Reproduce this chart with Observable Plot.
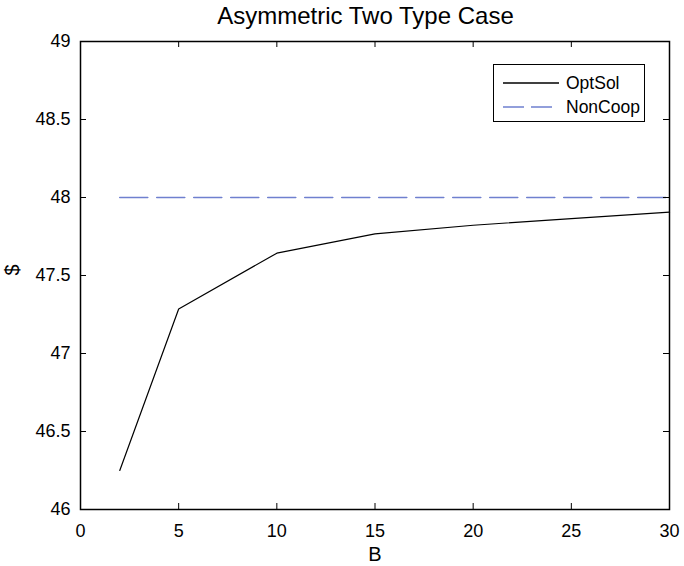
<!DOCTYPE html>
<html><head><meta charset="utf-8">
<script src="https://cdn.jsdelivr.net/npm/d3@7"></script>
<script src="https://cdn.jsdelivr.net/npm/@observablehq/plot@0.6"></script>
<style>
body{margin:0;background:#fff;font-family:"Liberation Sans",Arial,Helvetica,sans-serif;}
#wrap{position:relative;width:684px;height:566px;}
#title{position:absolute;left:0;width:731px;top:2px;text-align:center;font-size:24px;color:#000;}
#legend{position:absolute;left:493px;top:64px;width:152px;height:58px;border:1px solid #000;box-sizing:border-box;background:#fff;font-size:17.5px;color:#000;}
#legend .row{position:absolute;left:9px;height:20px;display:flex;align-items:center;}
#legend svg{display:block;margin-right:7px;}
</style></head>
<body>
<div id="wrap"></div>
<script>
// data
const B = [2, 5, 10, 15, 20, 25, 30];
const optSol = [46.25, 47.285, 47.643, 47.767, 47.822, 47.865, 47.906];
const nonCoop = [48, 48, 48, 48, 48, 48, 48];
const xTicks = [0, 5, 10, 15, 20, 25, 30];
const yTicks = [46, 46.5, 47, 47.5, 48, 48.5, 49];
const seriesNames = ["OptSol", "NonCoop"];
const titleText = "Asymmetric Two Type Case";
const xLabel = "B";
const yLabel = "$";

const colors = {OptSol: "#000000", NonCoop: "#6f80cf"};
const rows = B.map((b, i) => ({B: b, optSol: optSol[i], nonCoop: nonCoop[i]}));

const W = 684, H = 566, mL = 80, mR = 15, mT = 41, mB = 57;
const fw = W - mL - mR, fh = H - mT - mB, tk = 6;
const font = '"Liberation Sans", Arial, Helvetica, sans-serif';

const chart = Plot.plot({
  width: W, height: H,
  marginLeft: mL, marginRight: mR, marginTop: mT, marginBottom: mB,
  style: {fontFamily: font, fontSize: "18px", color: "#000", background: "#fff", overflow: "visible"},
  x: {domain: [0, 30]},
  y: {domain: [46, 49]},
  marks: [
    Plot.line(rows, {x: "B", y: "nonCoop", stroke: colors.NonCoop, strokeWidth: 1.6, strokeDasharray: "28,9"}),
    Plot.line(rows, {x: "B", y: "optSol", stroke: colors.OptSol, strokeWidth: 1.2}),
    Plot.tickX(xTicks, {x: d => d, insetTop: fh - tk, stroke: "#000"}),
    Plot.tickX(xTicks, {x: d => d, insetBottom: fh - tk, stroke: "#000"}),
    Plot.tickY(yTicks, {y: d => d, insetRight: fw - tk, stroke: "#000"}),
    Plot.tickY(yTicks, {y: d => d, insetLeft: fw - tk, stroke: "#000"}),
    Plot.frame({stroke: "#000", strokeWidth: 1.5}),
    Plot.axisX(xTicks, {tickSize: 0, tickPadding: 15, fontSize: 18, label: null, tickFormat: d => String(d)}),
    Plot.axisY(yTicks, {tickSize: 0, tickPadding: 10, fontSize: 18, label: null, tickFormat: d => String(d)}),
    Plot.text([xLabel], {frameAnchor: "bottom", dy: 45, fontSize: 20, text: d => d, lineAnchor: "middle"}),
    Plot.text([yLabel], {frameAnchor: "left", dx: -68, fontSize: 20, rotate: -90, text: d => d, lineAnchor: "middle"})
  ]
});

const wrap = document.getElementById("wrap");
wrap.appendChild(chart);

const t = document.createElement("div");
t.id = "title"; t.textContent = titleText;
wrap.appendChild(t);

const lg = document.createElement("div");
lg.id = "legend";
seriesNames.forEach((name, i) => {
  const r = document.createElement("div");
  r.className = "row";
  r.style.top = (8 + i * 24) + "px";
  const dash = name === "NonCoop" ? ' stroke-dasharray="21,7"' : "";
  r.innerHTML = `<svg width="56" height="4"><line x1="0" x2="56" y1="2" y2="2" stroke="${colors[name]}" stroke-width="1.3"${dash}/></svg><span>${name}</span>`;
  lg.appendChild(r);
});
wrap.appendChild(lg);
</script>
</body></html>
